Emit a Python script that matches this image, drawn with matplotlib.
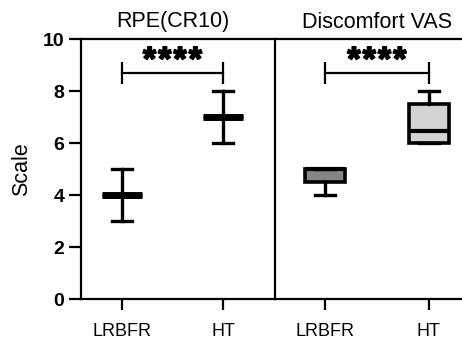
import numpy as np
import matplotlib
matplotlib.use("Agg")
import matplotlib.pyplot as plt
import matplotlib.patheffects as pe
from matplotlib.transforms import offset_copy

plt.rcParams['font.family'] = ['Liberation Sans', 'DejaVu Sans']

# groups on the x axis
groups = ["LRBFR", "HT"]

# RPE(CR10): whisker low, Q1, median, Q3, whisker high
rpe_low = [3, 6]
rpe_q1 = [4, 7]
rpe_med = [4, 7]
rpe_q3 = [4, 7]
rpe_high = [5, 8]

# Discomfort VAS
vas_low = [4, 6]
vas_q1 = [4.5, 6]
vas_med = [5, 6.45]
vas_q3 = [5, 7.5]
vas_high = [5, 8]
vas_fill = ["#858585", "#d3d3d3"]

titles = ["RPE(CR10)", "Discomfort VAS"]
stars = "****"
yticks = [0, 2, 4, 6, 8, 10]


def make_stats(low, q1, med, q3, high):
    st = []
    for i in range(len(groups)):
        st.append(dict(whislo=low[i], q1=q1[i], med=med[i], q3=q3[i],
                       whishi=high[i], fliers=[], label=groups[i]))
    return st


W, H = 462, 340
fig = plt.figure(figsize=(W / 100, H / 100), dpi=100)
bottom = (H - 299) / H
height = 260 / H
ax1 = fig.add_axes([81 / W, bottom, 194 / W, height])
ax2 = fig.add_axes([275 / W, bottom, 187 / W, height])

ax1.bxp(make_stats(rpe_low, rpe_q1, rpe_med, rpe_q3, rpe_high),
        positions=[0, 1], widths=0.4, showfliers=False, patch_artist=True,
        boxprops=dict(facecolor="white", edgecolor="black", linewidth=2.4),
        medianprops=dict(color="black", linewidth=5, solid_capstyle="butt"),
        whiskerprops=dict(color="black", linewidth=2.4),
        capprops=dict(color="black", linewidth=2.4), capwidths=0.2)

bp = ax2.bxp(make_stats(vas_low, vas_q1, vas_med, vas_q3, vas_high),
             positions=[0, 1], widths=0.39, showfliers=False, patch_artist=True,
             boxprops=dict(edgecolor="black", linewidth=2.6),
             medianprops=dict(color="black", linewidth=3, solid_capstyle="butt"),
             whiskerprops=dict(color="black", linewidth=2.4),
             capprops=dict(color="black", linewidth=2.4), capwidths=0.19)
for patch, c in zip(bp["boxes"], vas_fill):
    patch.set_facecolor(c)

ax1.set_xlim(-0.406, 1.515)
ax2.set_xlim(-0.48, 1.318)

for ax, title in zip([ax1, ax2], titles):
    ax.set_ylim(0, 10)
    ax.set_xticks([0, 1])
    ax.set_xticklabels(groups, fontsize=13)
    ax.tick_params(axis="x", length=8, width=1.6, pad=9)
    for s in ["top", "bottom", "left", "right"]:
        ax.spines[s].set_linewidth(1.6)
    # significance bracket
    ax.errorbar([0, 1], [8.68, 8.68], yerr=0.42, fmt="none", ecolor="black",
                elinewidth=1.6)
    ax.plot([0, 1], [8.68, 8.68], color="black", lw=1.6)
    # stars, a bit heavier and spread like the original
    for k, ch in enumerate(stars):
        tr = offset_copy(ax.transData, fig=fig, x=(k - 1.5) * 11, y=2.5,
                         units="points")
        ax.text(0.5, 8.68, ch, transform=tr, ha="center", va="baseline",
                fontsize=24, fontweight="bold",
                path_effects=[pe.withStroke(linewidth=1.3, foreground="black")])
    ax.text(0.5, 1.025, title, transform=ax.get_xaxis_transform(),
            ha="center", va="bottom", fontsize=15.5)

ax1.set_yticks(yticks)
ax1.set_yticklabels([str(v) for v in yticks], fontsize=14, fontweight="bold")
ax1.tick_params(axis="y", length=9, width=1.6, pad=3)
ax1.set_ylabel("Scale", fontsize=15.5, labelpad=8)
ax1.spines["right"].set_visible(False)

ax2.set_yticks([])
ax2.spines["right"].set_visible(False)

fig.savefig("out.png", dpi=100)
